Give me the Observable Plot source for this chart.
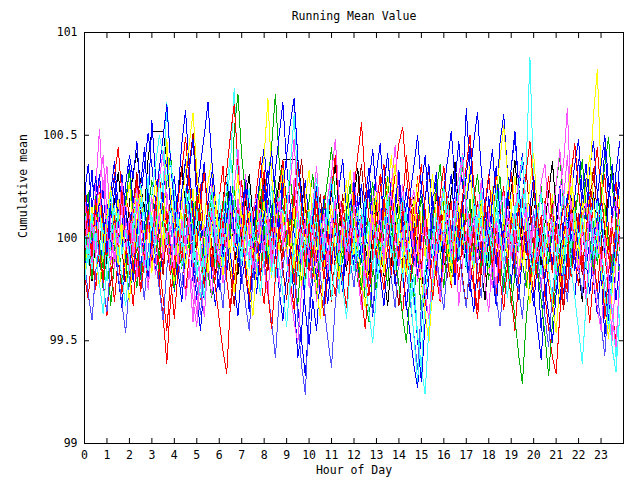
<!DOCTYPE html>
<html><head><meta charset="utf-8">
<script src="https://cdn.jsdelivr.net/npm/d3@7"></script>
<script src="https://cdn.jsdelivr.net/npm/@observablehq/plot@0.6"></script>
<style>html,body{margin:0;padding:0;background:#fff}</style>
</head><body><div id="chart"></div>
<script>
const title = "Running Mean Value";
const xLabel = "Hour of Day";
const yLabel = "Cumulative mean";
const xTicks = [0,1,2,3,4,5,6,7,8,9,10,11,12,13,14,15,16,17,18,19,20,21,22,23];
const yTicks = [99, 99.5, 100, 100.5, 101];
const baseline = 100;      // values below are offsets from 100, in hundredths
const stepHours = 1 / 6;   // one reading every 10 minutes

const series01 = [5,-12,18,-3,22,4,-9,15,31,8,-6,20, 12,-8,6,27,-4,11,-15,2,-22,-38,-61,-30, -12,9,-7,16,30,-2,13,26,-5,10,-14,3, 19,35,7,24,-8,12,28,3,17,-6,21,9, 33,14,-3,19,6,28,-1,15,24,-10,4,18, -7,-20,2,-12,21,5,-16,-28,-9,11,-3,7, 20,-2,13,-18,-6,9,-11,24,36,12,29,1, -9,17,40,22,8,30,-4,14,-15,6,23,-2, 15,-10,-24,3,-8,19,-5,12,-21,-35,-11,2, 18,-4,33,11,25,-2,9,-13,21,4,-8,16, -3,-19,6,-28,-44,-58,-66,-37,-15,-26,8,-10, -23,3,-9,22,6,-7,18,31,4,-14,9,-2];
const series02 = [-14,6,-20,3,-9,-25,-4,-33,-12,2,-22,-8, -30,-11,-24,1,-13,9,-6,14,-18,-3,10,-12, -25,-2,-15,8,-6,17,-9,-21,5,-17,-29,-7, -1,18,-10,9,25,4,20,-8,11,-14,2,-19, 8,26,45,70,38,17,-5,12,-20,-32,-8,-22, 4,-13,-27,-3,-16,11,-7,6,-19,-4,13,-10, 3,-21,-8,-30,-41,-14,-26,4,-9,-23,2,-11, 16,-5,8,-17,-29,-9,-38,-16,3,-10,12,-6, -24,-2,-15,7,-11,14,-3,19,-8,5,-16,9, -1,-20,4,-10,-26,-7,-33,-18,3,-12,-24,-9, 6,-15,-30,-47,-67,-42,-20,-5,-17,6,-9,11, 24,2,15,-6,8,-13,3,17,-2,-16,5,-21];
const series03 = [28,11,33,6,19,-4,15,-2,24,7,31,12, 36,18,2,25,44,16,57,30,9,27,41,15, 4,22,46,62,33,14,-3,21,37,10,25,-8, 12,-6,27,5,18,-10,9,31,14,-2,20,3, 26,8,-9,17,2,35,18,-4,13,-19,-7,-35, -52,-30,-45,-18,-33,-6,10,-11,4,-22,-5,16, -3,20,-12,7,24,-1,15,31,6,22,-6,13, 30,-4,17,-15,8,-20,-2,19,36,12,28,5, -9,14,-2,27,47,24,63,33,11,-7,16,-3, 20,5,-14,9,-6,18,34,52,26,41,14,-2, -18,4,-10,17,1,-13,9,25,-6,11,-4,20, 38,14,29,3,21,-5,16,44,19,36,10,27];
const series04 = [-8,15,-3,24,53,19,35,6,-10,12,-5,18, -16,4,-20,9,-7,-25,-4,-18,8,-9,22,3, 14,-12,6,-30,-15,-41,-6,-23,-38,-12,-28,2, -14,11,-5,20,-2,15,-9,31,7,-4,-19,8, -6,16,-11,3,-22,-8,12,-3,29,5,-13,9, -24,-6,-31,-14,2,-17,11,-5,-21,3,-12,10, -4,-18,-35,-9,-27,-13,6,-15,12,-2,17,-8, 4,26,-6,13,-14,-1,-19,5,-11,-25,-7,-30, -13,6,-17,-1,-33,-12,3,-20,16,-4,9,-22, -36,-8,-24,2,-12,19,-3,11,-7,22,5,-10, 14,-9,-25,-2,-14,10,-6,24,36,63,17,-3, 8,-13,-30,-6,-20,-1,-16,-33,-21,-50,-12,4];
const series05 = [16,-6,-15,2,-10,8,-21,-3,12,-9,20,1, -5,14,-2,26,9,30,-4,17,35,22,66,38, 11,-7,4,-15,23,-1,-18,-6,-30,-9,7,-12, 21,-3,16,36,73,28,6,-10,-1,-17,9,-4, 13,-8,3,-22,-5,14,-11,-25,-6,-19,2,-13, 8,-9,22,-3,-15,4,-30,-12,-27,-1,14,-5, -16,6,-8,19,-4,11,-20,-2,-14,5,-9,15, -2,-21,-6,-33,-18,-48,-64,-29,-11,6,-7,12, -3,18,1,-13,7,-6,15,-8,24,2,19,-4, 10,-9,6,23,4,29,14,-2,21,7,35,88, 26,-2,-18,3,-11,8,-26,-7,-20,4,-12,11, -6,9,-15,21,2,-10,14,-4,-19,-35,-58,-22];
const series06 = [-4,13,-10,8,21,-6,11,-14,5,19,-3,14, 27,6,23,-2,-12,9,-17,4,18,-5,48,20, 6,-9,12,-15,3,24,-1,-13,8,27,38,12, -2,-16,9,-7,15,31,5,-10,13,-11,7,25, 40,68,30,9,-6,12,-9,5,-15,14,-4,19, 33,8,-8,12,-12,7,26,4,-11,13,28,2, -8,15,-5,-20,3,19,-2,-14,8,24,40,11, -3,-17,7,-13,10,28,5,-9,15,31,6,-7, 13,-6,-22,-1,16,-4,20,35,9,-5,17,-10, 3,25,-2,-12,11,-9,14,30,2,-14,8,26, 41,13,-4,-16,7,21,-3,-17,5,20,36,9, -5,18,-1,29,60,82,31,12,-9,4,-11,20];
const series07 = [-18,-30,-6,-25,-2,-21,-38,-12,-31,-9,-27,-4, -15,-33,-10,-26,0,-19,-5,9,-14,-29,-45,-20, -39,-16,-3,-27,-8,6,-17,-30,-6,10,-12,-24, -40,-55,-66,-31,-20,-5,7,-16,-28,-8,4,-19, -32,-9,5,-17,1,15,-8,-21,-35,-11,2,-23, -4,12,-10,-24,-38,-15,-2,14,-7,-20,-34,-9, 5,-16,-29,-44,-21,-6,8,-13,-25,-3,11,-10, -23,-37,-12,1,15,-7,-22,-33,-10,3,-18,-31, -8,6,18,-5,-20,-2,13,-11,-24,-39,-16,-4, 10,-13,-27,-6,8,-15,-29,-45,-20,-7,7,-14, -26,-4,11,-9,-22,-36,-13,2,17,-5,-19,-1, 12,-10,-25,-41,-18,-3,11,-9,-23,-37,-50,-24];
const series08 = [21,36,14,30,8,25,-2,22,37,16,3,26, 40,29,47,20,35,51,35,17,2,24,-4,15, 30,9,-5,20,33,48,19,5,-7,18,32,11, -3,-16,8,23,2,-12,12,27,6,-9,16,31, 44,20,6,33,50,66,36,15,2,-11,14,28, 8,-7,-20,5,19,-1,-16,10,25,38,12,-1, -14,11,26,4,-9,17,32,46,20,7,-8,18, 33,9,-5,21,35,50,24,8,-6,19,32,6, -7,18,31,5,-10,16,30,45,19,3,-11,14, 29,43,17,46,60,32,16,-1,23,37,12,-4, -18,7,22,-1,-14,11,26,40,15,1,22,36, 48,21,9,34,47,22,8,-7,18,33,10,38];
const series09 = [-12,-27,-40,-16,-3,-23,-36,-10,4,-18,-32,-46, -21,-7,8,-15,-30,-6,9,-11,-25,-40,-15,-1, 12,-10,-24,0,14,-8,-23,-37,-13,1,15,-5, -19,-34,-9,5,19,-1,-17,-32,-45,-20,-5,9, -12,-26,-41,-58,-30,-15,0,13,-9,-40,-62,-76, -35,-10,3,-18,-33,-49,-63,-32,-16,-2,11,-11, -24,-3,12,-8,-22,-37,-12,3,17,-5,-20,-34, -10,5,-17,-30,-47,-64,-33,-15,0,14,-8,-22, -35,-11,4,17,-6,-21,-34,-9,6,-16,-29,-6, 9,-13,-28,-43,-18,-3,11,-10,-25,-39,-14,0, 13,-9,-23,-38,-53,-27,-10,5,-17,-31,-7,8, -14,-28,-5,10,-12,-27,-42,-57,-29,-11,4,-18];
const series10 = [9,22,-1,20,-4,-15,8,21,-6,17,2,19, 33,10,-7,-20,1,14,28,4,-10,12,27,41, 16,2,-13,10,25,3,22,-1,-16,8,21,-2, -15,9,24,1,52,70,40,21,3,-12,13,27, 5,-10,15,28,6,-8,17,30,9,-7,-21,1, 18,31,8,-8,15,29,44,19,3,-12,12,26, 4,-11,-25,-2,14,27,5,-9,16,30,7,-8, -23,-38,-51,-26,-9,6,20,-1,-15,8,23,36, 13,-2,-17,7,22,35,11,-5,18,31,9,-6, -20,1,16,30,7,-9,-23,-39,-57,-71,-40,-20, -4,11,25,2,-13,12,26,40,16,0,-14,9, 24,38,14,-1,-16,7,21,35,49,25,9,-6];
const series11 = [20,1,-12,10,28,40,12,5,-15,7,27,6, -9,15,24,9,-5,-21,-6,11,29,42,14,-1, -16,12,22,-3,-11,-30,-43,-18,-14,8,26,6, -7,-22,-6,15,24,43,15,0,-10,13,21,1, -15,-28,-3,13,23,3,-6,-26,-41,-51,-25,-9, 6,16,35,8,-5,20,31,48,21,10,-9,12, 32,5,-6,-25,-4,17,27,3,-11,17,26,45, 19,7,-8,14,23,2,-13,-27,-39,-16,-5,16, 25,3,-12,16,31,41,17,6,-13,9,28,1, -14,-24,-1,14,22,1,-9,13,29,39,14,4, -16,6,27,36,13,3,-18,10,19,40,11,-5, -14,8,17,-6,-20,-34,-45,-22,-17,9,18,-4];
const series12 = [-20,0,15,-9,-24,-6,10,25,2,-13,7,-16, -31,-8,9,23,0,-15,12,28,7,-9,14,-8, -22,1,17,32,46,61,33,14,-1,-17,6,21, -2,-18,7,-13,-27,-4,13,-9,-23,-38,-13,3, 18,-4,-19,5,20,34,10,-6,15,-8,-23,-1, 14,-9,-24,-39,-15,1,16,-6,-20,4,19,33, 10,-5,-20,-34,-10,7,22,-1,-17,6,21,36, 12,-4,-18,4,19,-5,-21,-36,-51,-24,-7,8, 23,1,-15,9,24,39,15,-1,-16,7,22,0, -15,8,23,38,55,31,13,-3,-18,4,-17,-32, -9,7,22,0,-16,-31,-46,-22,-6,10,25,3, -13,10,25,40,16,0,-16,-33,-49,-25,-8,8];
const series13 = [-23,-3,12,-8,-22,-37,-13,2,16,-5,-19,-33, -11,5,19,-2,-17,6,21,36,50,40,28,37, 22,1,-14,8,23,1,-14,-29,-7,9,24,2, -13,10,25,41,18,2,-13,9,24,2,-13,-28, -6,10,25,3,-12,-27,-43,-19,-3,12,-9,-24, -2,14,29,7,-8,14,29,6,-9,-24,-39,-16, 0,15,-6,-21,-36,-51,-27,-10,6,21,-1,-16, 5,20,-2,-17,-32,-47,-63,-76,-44,-22,-5,10, 25,3,-12,10,25,40,17,1,-14,8,23,1, -14,8,23,1,-14,-29,-7,9,24,39,16,0, -15,7,22,0,-15,-30,-8,8,23,1,-14,-29, -45,-61,-32,-13,3,18,-4,-19,-34,-54,-65,-37];
const series14 = [25,4,-11,12,27,7,-8,15,30,44,21,6, -9,13,28,8,-7,-21,0,16,31,11,-4,-18, 2,18,33,49,26,10,-5,17,32,10,-5,-20, 1,17,33,50,65,36,17,2,-13,9,24,39, 16,1,-14,8,23,38,15,0,21,37,14,-1, -16,6,22,1,-14,9,24,40,17,1,-14,8, 24,40,56,28,10,-6,15,31,9,-6,16,31, 46,54,31,14,-1,21,36,13,-2,-17,5,20, 35,13,-2,-17,5,20,35,50,26,9,-6,16, 31,9,-6,-21,1,17,32,10,-5,17,32,47, 24,8,-7,15,30,8,-7,-22,0,16,31,46, 23,7,-8,14,29,44,21,5,-10,12,27,5];
const series15 = [-6,16,31,9,-6,-21,1,17,-4,-19,-34,-11, 5,20,-2,-17,6,21,-1,-16,6,22,38,15, -1,-16,-31,-9,7,-14,-29,-45,-21,-5,11,-10, -25,-3,13,-8,-23,-38,-15,1,16,-5,-20,2, 18,33,11,-4,18,34,12,-4,-19,-34,-50,-67, -39,-19,-2,14,-7,-22,0,16,-5,-20,2,18, -4,-19,3,19,34,12,-3,-18,-33,-11,5,20, -2,-17,-32,-47,-62,-73,-43,-22,-5,11,-10,-25, -3,13,-8,-23,-1,15,-6,-21,-36,-13,3,18, -3,-18,-33,-10,6,22,0,-15,-30,-8,8,-13, -28,-43,-59,-32,-13,4,-17,-32,-9,7,-14,-29, -7,9,-12,-27,-5,11,-10,-25,-40,-17,-1,15];
const series16 = [7,-7,-21,0,15,1,-13,2,17,32,12,-3, 17,32,41,27,12,39,52,52,52,52,38,16, 1,21,35,14,-1,-16,5,19,34,12,-3,-18, 3,18,33,11,-4,-18,3,17,31,10,-5,15, 29,8,-7,13,28,38,38,38,38,38,23,2, -13,8,23,2,-13,7,22,36,14,-1,-16,5, 19,34,12,-3,-18,3,18,-3,-18,-33,-11,5, 20,-1,-16,5,20,-1,-16,-31,-9,7,22,1, -14,7,22,37,15,0,-15,6,21,0,-15,-30, -8,8,23,2,-13,8,23,38,16,0,-15,7, 22,1,-14,7,22,37,15,-1,-16,5,20,-1, -16,-31,-9,7,22,0,-15,6,21,36,14,-1];
const series17 = [-11,10,-10,-25,-3,12,-8,-23,-1,14,-6,-21, 1,17,32,10,-5,-20,2,18,-3,-18,4,19, -2,-17,5,20,36,51,27,10,-5,17,-4,-19, 3,18,-3,-18,-33,-11,4,-17,-32,-10,5,20, -1,-16,6,21,0,-15,-30,-8,7,22,38,15, -1,-16,6,21,-1,-16,-31,-9,6,21,-1,-16, 6,21,36,14,-2,19,-3,-18,4,19,-3,-18, -33,-11,4,19,-3,-18,4,19,34,12,-4,17, -4,-19,3,18,-4,-19,-34,-12,3,18,-4,-19, 3,18,34,11,-4,17,-4,-19,3,18,33,11, -5,16,-5,-20,2,17,-4,-19,-35,-12,4,19, -3,-18,4,19,34,11,-4,17,-4,-19,3,18];
const series18 = [29,9,-6,16,31,9,-7,15,30,8,-7,15, -6,-21,1,17,-4,-19,3,19,34,49,65,37, 17,1,23,38,15,-1,20,36,50,66,38,18, 2,-13,9,25,3,-12,10,25,3,-12,-27,-5, 11,26,42,19,3,24,40,56,68,39,19,3, -12,10,25,4,-11,11,26,4,-11,-26,-4,12, 27,5,-10,12,27,43,20,4,26,41,18,2, -13,9,24,3,-12,10,25,40,17,1,-14,8, 23,38,52,27,9,-6,16,31,47,61,33,14, -2,19,35,12,-4,18,34,49,25,8,-7,15, 30,8,-7,-22,-37,-51,-27,-10,6,21,-1,-16, 6,21,36,14,-2,20,35,50,27,10,32,47];
const series19 = [-3,14,-9,19,-6,-21,5,-13,11,-4,23,-8, 7,-17,2,-26,-12,10,-5,18,-2,-15,13,-7, -19,4,-11,16,1,-14,20,-3,-24,-8,15,-1, -13,8,-20,-36,-9,14,-4,21,3,-12,6,-18, -2,-27,-44,-19,5,-10,16,-6,-22,-1,12,-14, 7,-9,18,-5,-20,3,-16,9,-11,17,2,-13, 21,-4,10,-12,-28,-7,13,-2,19,4,-18,6, -10,15,-3,-21,-4,12,-15,8,-6,-30,-12,11, -5,20,3,-16,9,-8,14,-11,5,-24,-6,17, 1,-14,8,-19,-35,-13,10,-3,16,-9,4,-22, -7,12,-5,18,-1,-17,6,-12,-33,-10,14,-6, 9,-15,3,20,-8,-26,-4,-39,-18,5,-11,7];
const series20 = [-16,3,-8,12,-14,-2,17,-6,9,-11,-24,-5, 10,-9,6,-18,-3,14,-12,4,-20,-7,11,-4, -26,-8,7,-15,3,-21,-6,16,-10,5,-19,-33, -11,4,-17,2,18,-5,-22,-9,-36,-14,-1,-20, 3,-13,9,-7,-25,-40,-18,-4,-30,-58,-45,-21, -8,9,-12,5,-16,-32,-10,7,-18,1,-14,6, -9,12,-4,-21,-7,-38,-17,2,-11,10,-6,-23, -4,-18,-35,-12,-28,-50,-70,-41,-19,-3,-16,4, -12,8,-6,-20,-1,13,-9,-26,-5,11,-7,-17, 6,-15,-29,-11,4,-8,-22,-3,14,-10,2,-19, -33,-12,-45,-20,-4,-16,7,-9,-27,-6,-18,3, -11,5,-14,-2,-21,-37,-15,-48,-24,-9,-30,-13];
const series21 = [3,-13,9,-4,15,-10,6,22,-3,13,-8,4, -11,8,-5,19,2,-16,11,-7,28,8,-3,16, -8,10,-6,24,5,-12,14,-4,-19,1,18,-2, 9,-14,4,20,-6,12,-9,7,-15,5,-3,14, -10,6,-18,2,20,-5,15,35,60,26,8,-7, 13,-4,10,-14,3,17,-8,6,-12,9,-5,16, 1,-11,14,-3,8,-16,2,12,-7,18,-1,-14, 7,-9,15,-26,-48,-70,-40,-15,4,-10,12,-6, 3,19,-5,11,-9,6,-15,2,17,-4,10,-12, 5,-8,14,0,-13,9,-2,16,-6,24,7,-10, -18,3,-9,14,-4,10,-16,1,-10,7,-5,13, -2,11,-7,15,-10,4,-13,-28,-44,-20,-6,9];
const series22 = [11,-5,7,-9,13,28,3,-12,6,-3,16,-6, 10,-8,18,1,-14,5,20,-2,12,-10,3,-16, 4,-13,9,-5,11,-19,-37,-10,6,-8,13,-1, -12,5,-6,15,-3,19,4,-10,7,-15,-2,11, -7,9,-14,3,18,-4,10,27,48,14,-3,8, -10,6,-17,-2,12,-11,4,19,-6,8,-13,2, 16,-4,9,-20,-6,11,-2,14,-9,5,22,1, -14,3,-8,12,-5,-21,-4,9,-16,2,-11,7, -3,14,-9,6,20,38,12,-4,10,-12,3,-7, 13,-2,8,-15,-1,11,-10,4,-19,-4,15,-8, 6,-11,2,17,-3,9,26,43,18,-1,12,-5, -17,4,-9,13,-2,8,-14,1,-20,-38,-53,-16];

// drawing order (first drawn is at the back) and matching colours
const allSeries = [series16, series17, series20, series15, series01, series02, series03, series07, series04, series08, series05,
                   series09, series10, series06, series14, series11, series18, series12, series13, series19, series21, series22];
const seriesColors = ["#000000", "#b00000", "#0000ff", "#0000ff", "#ff0000", "#00b000", "#0000ff", "#ff0000", "#ff50ff", "#0000ff", "#40ffff",
                      "#5050ff", "#00b000", "#ffff00", "#ff0000", "#ff50ff", "#0000ff", "#ffff00", "#40ffff", "#ff0000", "#40ffff", "#ff50ff"];

const lineMarks = allSeries.map((vals, s) =>
  Plot.lineY(vals, {
    x: (d, i) => i * stepHours,
    y: d => baseline + d / 100,
    stroke: seriesColors[s],
    strokeWidth: 1,
    shapeRendering: "crispEdges"
  })
);

const chart = Plot.plot({
  width: 640,
  height: 480,
  marginTop: 32,
  marginBottom: 37,
  marginLeft: 84,
  marginRight: 17,
  style: {fontFamily: "'DejaVu Sans Mono', monospace", fontSize: "11.5px", background: "#fff", color: "#000"},
  x: {domain: [0, 24], label: null},
  y: {domain: [99, 101], label: null},
  marks: [
    ...lineMarks,
    Plot.frame({stroke: "#000", strokeWidth: 1}),
    Plot.axisX(xTicks, {anchor: "bottom", tickSize: 0, tickPadding: 7, tickFormat: d => String(d), label: null}),
    Plot.axisX(xTicks, {anchor: "bottom", tickSize: -5, fill: "none", label: null}),
    Plot.axisX(xTicks, {anchor: "top", tickSize: -5, fill: "none", label: null}),
    Plot.axisY(yTicks, {anchor: "left", tickSize: 0, tickPadding: 7, tickFormat: d => String(d), label: null}),
    Plot.axisY(yTicks, {anchor: "left", tickSize: -5, fill: "none", label: null}),
    Plot.axisY(yTicks, {anchor: "right", tickSize: -5, fill: "none", label: null}),
    Plot.text([title], {frameAnchor: "top", dy: -16, lineAnchor: "middle"}),
    Plot.text([xLabel], {frameAnchor: "bottom", dy: 27, lineAnchor: "middle"}),
    Plot.text([yLabel], {frameAnchor: "left", dx: -61, rotate: -90, lineAnchor: "middle"})
  ]
});
document.getElementById("chart").appendChild(chart);
</script>
</body></html>
